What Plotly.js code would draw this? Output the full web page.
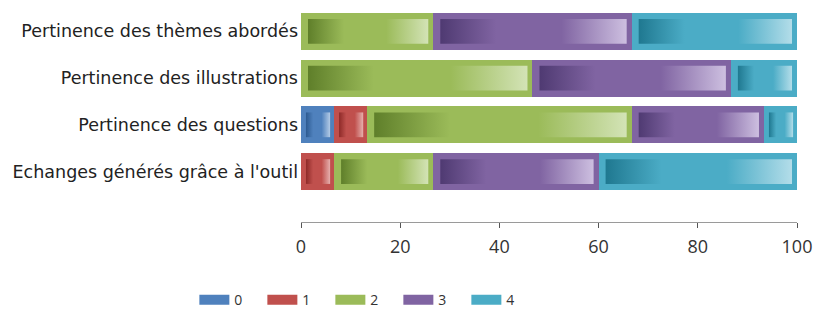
<!DOCTYPE html>
<html><head><meta charset="utf-8">
<script src="https://cdn.plot.ly/plotly-3.0.1.min.js"></script>
<style>html,body{margin:0;padding:0;background:#fff}#chart{width:819px;height:312px}</style>
</head><body><div id="chart"></div>
<script>
const categories = ["Pertinence des thèmes abordés","Pertinence des illustrations","Pertinence des questions","Echanges générés grâce à l'outil"];
const seriesNames = ["0","1","2","3","4"];
const s0 = [0, 0, 6.67, 0];
const s1 = [0, 0, 6.67, 6.67];
const s2 = [26.67, 46.67, 53.33, 20];
const s3 = [40, 40, 26.67, 33.33];
const s4 = [33.33, 13.33, 6.67, 40];
const xTicks = [0,20,40,60,80,100];

const series = [s0,s1,s2,s3,s4];
const colors = ["#4F81BD","#C0504D","#9BBB59","#8064A2","#4BACC6"];
const darks  = ["#2c5a91","#8e2a28","#5f7f2a","#4f3a72","#1f7890"];
const lights = ["#b4cbe6","#e6b0ae","#d3e3b6","#cdbfe0","#b3dde9"];
const yPos = categories.map((c,i)=>i);
const data = [];
series.forEach((vals,k)=>{
  data.push({type:'bar',orientation:'h',name:seriesNames[k],x:vals,y:yPos,showlegend:false,
    marker:{color:colors[k],line:{width:0}},width:0.79,hoverinfo:'x'});
});
// inner gradient highlights, derived from the same values
const pxPerUnit = 496/100;
const cum = categories.map(()=>0);
series.forEach((vals,k)=>{
  vals.forEach((v,i)=>{
    const x0 = cum[i], x1 = cum[i]+v;
    cum[i] = x1;
    if (v<=0) return;
    const insL = Math.min(7, v*pxPerUnit*0.15)/pxPerUnit;
    const insR = Math.min(5, v*pxPerUnit*0.12)/pxPerUnit;
    const a = x0+insL, b = x1-insR, yh = 0.395-0.13;
    data.push({type:'scatter',mode:'none',showlegend:false,hoverinfo:'skip',
      x:[a,b,b,a,a], y:[i-yh,i-yh,i+yh,i+yh,i-yh], fill:'toself',
      fillgradient:{type:'horizontal',colorscale:[[0,darks[k]],[0.3,colors[k]],[0.65,colors[k]],[1,lights[k]]]}});
  });
});
// legend entries (wide swatches like the original)
series.forEach((vals,k)=>{
  data.push({type:'scatter',mode:'lines',name:seriesNames[k],x:[null],y:[null],
    line:{color:colors[k],width:10},hoverinfo:'skip'});
});
const layout = {
  width:819,height:312,barmode:'stack',
  margin:{l:301,r:22,t:8,b:90,autoexpand:false},
  paper_bgcolor:'#fff',plot_bgcolor:'#fff',
  font:{family:'DejaVu Sans, sans-serif',color:'#222'},
  xaxis:{range:[0,100],tickvals:xTicks,ticktext:xTicks.map(String),showgrid:false,zeroline:false,
    showline:true,linecolor:'#9a9a9a',linewidth:1,ticks:'outside',ticklen:5,tickcolor:'#555',
    tickfont:{family:'Open Sans, sans-serif',size:18,color:'#333'},ticklabelstandoff:3,fixedrange:true},
  yaxis:{range:[4.08,-0.5],tickvals:yPos,ticktext:categories,showgrid:false,zeroline:false,
    showline:false,ticks:'',tickfont:{size:17.5,color:'#222'},ticklabelstandoff:2,fixedrange:true},
  showlegend:true,
  legend:{orientation:'h',x:-0.215,xanchor:'left',y:-0.29,yanchor:'top',traceorder:'normal',
    font:{family:'Open Sans, sans-serif',size:14,color:'#333'},entrywidth:23,entrywidthmode:'pixels'},
};
Plotly.newPlot('chart',data,layout,{displayModeBar:false,staticPlot:true});
</script></body></html>
